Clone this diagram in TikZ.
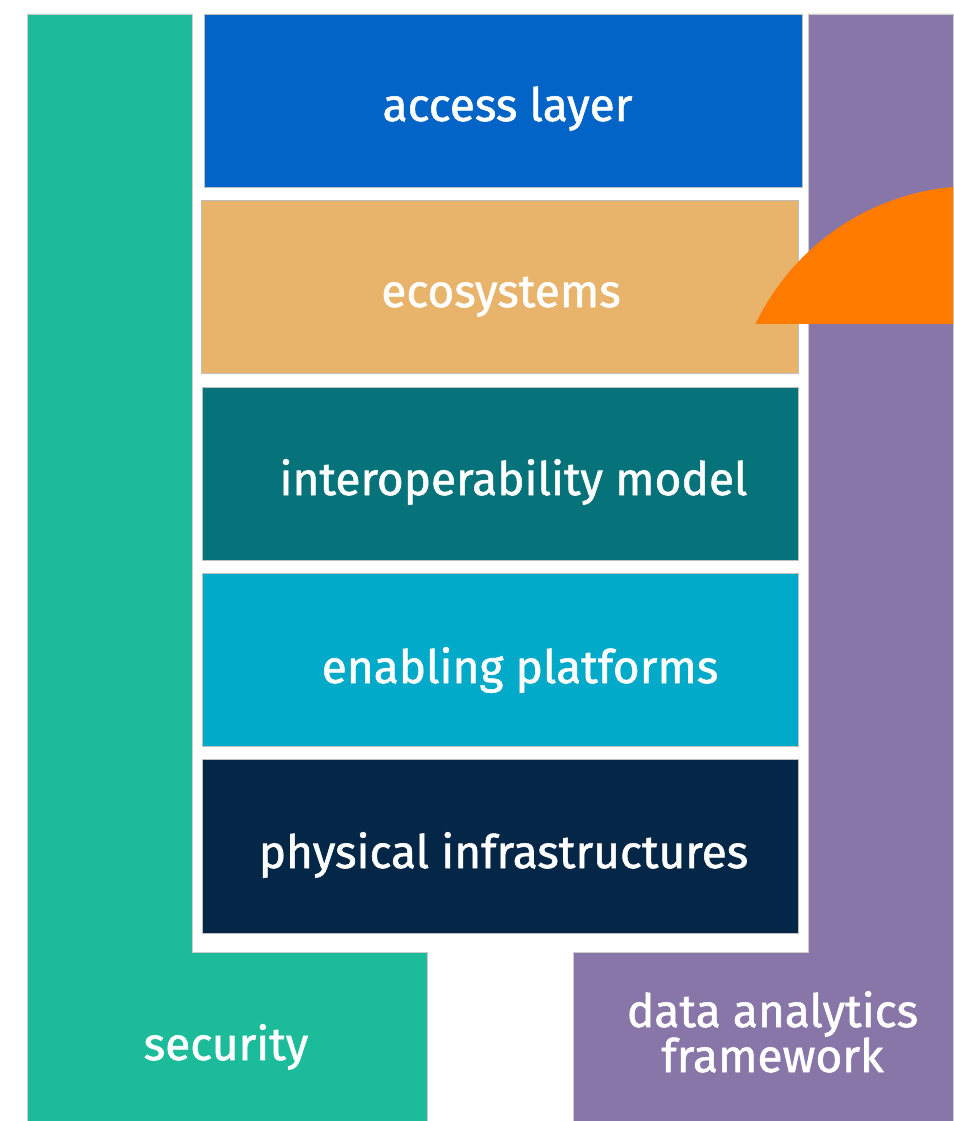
\documentclass[tikz,border=0pt]{standalone}
\usepackage{fontspec}
\setmainfont{Fira Sans}
\newfontfamily\lblfont[FakeBold=1.2]{Fira Sans}
\definecolor{secgreen}{HTML}{1CBC9A}
\definecolor{accblue}{HTML}{0364C8}
\definecolor{ecotan}{HTML}{E8B46B}
\definecolor{intteal}{HTML}{06737A}
\definecolor{enacyan}{HTML}{00AAC8}
\definecolor{phynavy}{HTML}{042647}
\definecolor{dafpurple}{HTML}{8876A8}
\definecolor{arcorange}{HTML}{FF7B00}
\begin{document}
\begin{tikzpicture}[x=1pt,y=-1pt,
  layerbox/.style={draw=black!25, line width=0.8pt, inner sep=0pt, minimum width=597pt, minimum height=173pt},
  lbl/.style={text=white, inner sep=0pt, anchor=base, font=\lblfont\fontsize{46}{46}\selectfont},
  band/.style={draw=black!20, line width=0.8pt}]
\useasboundingbox (0,0) rectangle (953,1121);
\fill[white] (0,0) rectangle (953,1121);
% security band (L shape)
\path[band, fill=secgreen] (27,14) -- (192,14) -- (192,952) -- (427,952) -- (427,1121) -- (27,1121) -- cycle;
% data analytics band
\path[band, fill=dafpurple] (808,14) -- (953,14) -- (953,1121) -- (573,1121) -- (573,952) -- (808,952) -- cycle;
% layers
\node[layerbox, fill=accblue, minimum width=598pt] (access) at (503,100.5) {};
\node[layerbox, fill=ecotan] (eco) at (499.5,286.5) {};
\node[layerbox, fill=intteal, minimum width=596pt] (interop) at (500,473.5) {};
\node[layerbox, fill=enacyan, minimum width=596pt] (enabling) at (500,659.5) {};
\node[layerbox, fill=phynavy, minimum width=596pt, minimum height=174pt] (physical) at (500,846) {};
% orange arc
\begin{scope}
\clip (700,0) rectangle (953,323);
\fill[arcorange] (974.3,428.6) circle[radius=242.5pt];
\end{scope}
% labels
\node[lbl] (accessL) at (507.5,121) {access layer};
\node[lbl] (ecoL) at (501,307) {ecosystems};
\node[lbl] (interopL) at (513.5,495) {interoperability model};
\node[lbl] (enablingL) at (520,683) {enabling platforms};
\node[lbl] (physicalL) at (503.5,868) {physical infrastructures};
\node[lbl] (securityL) at (226,1060) {security};
\node[lbl] (dataL) at (772.5,1027) {data analytics};
\node[lbl] (frameL) at (772.5,1072) {framework};
\end{tikzpicture}
\end{document}
